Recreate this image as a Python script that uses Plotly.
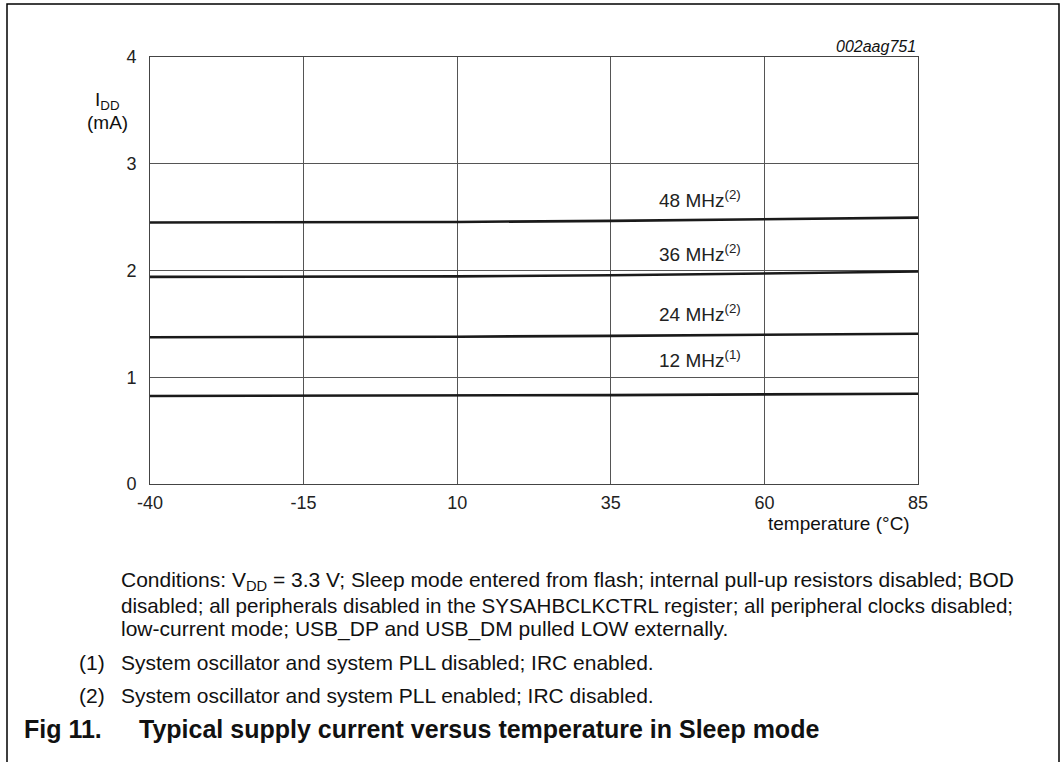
import plotly.graph_objects as go

# ---- data ----
temperature = [-40, -15, 10, 35, 60, 85]
idd_48mhz = [2.45, 2.45, 2.455, 2.465, 2.48, 2.495]
idd_36mhz = [1.94, 1.942, 1.945, 1.955, 1.97, 1.99]
idd_24mhz = [1.375, 1.376, 1.38, 1.388, 1.398, 1.408]
idd_12mhz = [0.825, 0.826, 0.828, 0.833, 0.84, 0.846]
series_labels = ["48 MHz<sup>(2)</sup>", "36 MHz<sup>(2)</sup>",
                 "24 MHz<sup>(2)</sup>", "12 MHz<sup>(1)</sup>"]
label_y = [2.67, 2.16, 1.60, 1.17]
x_ticks = [-40, -15, 10, 35, 60, 85]
x_tick_text = ["-40", "-15", "10", "35", "60", "85"]
y_ticks = [0, 1, 2, 3, 4]

FONT = "Liberation Sans, Arial, sans-serif"
W, H = 1063, 762
L, R, T, B = 150, 918, 57, 484  # plot area in px


def px(x):
    return (x - L) / (R - L)


def py(y):
    return (B - y) / (B - T)


fig = go.Figure()
for ys in [idd_48mhz, idd_36mhz, idd_24mhz, idd_12mhz]:
    fig.add_trace(go.Scatter(x=temperature, y=ys, mode="lines",
                             line=dict(color="#1a1a1a", width=2.6),
                             showlegend=False, hoverinfo="skip"))

annotations = []
for lab, yv in zip(series_labels, label_y):
    annotations.append(dict(x=42.5, y=yv, xref="x", yref="y", text=lab,
                            showarrow=False, xanchor="left", yanchor="middle",
                            font=dict(family=FONT, size=19, color="#222")))


def ann(x, y, text, size=21, xanchor="left", bold=False, italic=False):
    t = text
    if bold:
        t = "<b>" + t + "</b>"
    if italic:
        t = "<i>" + t + "</i>"
    annotations.append(dict(x=px(x), y=py(y), xref="paper", yref="paper", text=t,
                            showarrow=False, xanchor=xanchor, yanchor="middle",
                            font=dict(family=FONT, size=size, color="#111")))


ann(918, 47, "002aag751", size=16, xanchor="right", italic=True)
ann(107, 101, "I<sub>DD</sub>", size=19, xanchor="center")
ann(107, 123, "(mA)", size=19, xanchor="center")
ann(912, 523, "temperature (°C)", size=19, xanchor="right")

ann(119, 581, "Conditions: V<sub>DD</sub> = 3.3 V; Sleep mode entered from flash; internal pull-up resistors disabled; BOD")
ann(119, 605, "disabled; all peripherals disabled in the SYSAHBCLKCTRL register; all peripheral clocks disabled;", size=20.6)
ann(119, 629, "low-current mode; USB_DP and USB_DM pulled LOW externally.")
ann(77, 662, "(1)")
ann(119, 662, "System oscillator and system PLL disabled; IRC enabled.")
ann(77, 695, "(2)")
ann(119, 695, "System oscillator and system PLL enabled; IRC disabled.")
ann(22, 729, "Fig 11.", size=25, bold=True)
ann(137, 729, "Typical supply current versus temperature in Sleep mode", size=25, bold=True)

shapes = [dict(type="rect", xref="paper", yref="paper",
               x0=px(7), x1=px(1059), y0=py(800), y1=py(4),
               line=dict(color="black", width=1.5), layer="below")]

fig.update_layout(
    width=W, height=H,
    margin=dict(l=L, r=W - R, t=T, b=H - B, pad=0),
    paper_bgcolor="white", plot_bgcolor="white",
    annotations=annotations, shapes=shapes,
    xaxis=dict(range=[-40, 85], tickvals=x_ticks, ticktext=x_tick_text, ticks="",
               showgrid=True, gridcolor="#555", gridwidth=1, zeroline=False,
               showline=True, linecolor="#444", linewidth=1, mirror=True,
               tickfont=dict(family=FONT, size=18, color="#222"),
               ticklabelstandoff=2),
    yaxis=dict(range=[0, 4], tickvals=y_ticks, ticks="", showgrid=True,
               gridcolor="#555", gridwidth=1, zeroline=False,
               showline=True, linecolor="#444", linewidth=1, mirror=True,
               tickfont=dict(family=FONT, size=18, color="#222"),
               ticklabelstandoff=9),
)

fig.write_html("out.html", config={"displayModeBar": False},
               post_script="document.body.style.margin='0px';document.body.style.overflow='hidden';")
